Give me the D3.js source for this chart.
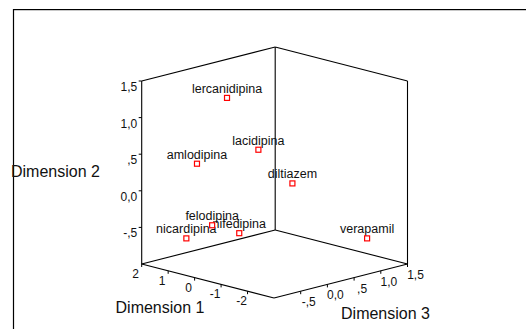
<!DOCTYPE html>
<html>
<head>
<meta charset="utf-8">
<script src="https://cdn.jsdelivr.net/npm/d3@7"></script>
<style>
html,body{margin:0;padding:0;background:#fff;}
svg{display:block;font-family:"Liberation Sans",Arial,sans-serif;}
</style>
</head>
<body>
<svg id="chart" width="526" height="329"></svg>
<script>
// ---- data ----
const names = ["lercanidipina","lacidipina","amlodipina","diltiazem","felodipina","nifedipina","nicardipina","verapamil"];
const dim1 = [0.39, -0.19, 0.96, -0.83, 0.67, 0.17, 1.16, -2.24];
const dim2 = [1.27, 0.56, 0.37, 0.10, -0.47, -0.58, -0.65, -0.65];
const dim3 = [-0.20, 0.10, -0.48, 0.42, -0.34, -0.08, -0.58, 1.12];

const ticks1 = [2, 1, 0, -1, -2];
const tickLabels1 = ["2", "1", "0", "-1", "-2"];
const ticks2 = [1.5, 1.0, 0.5, 0.0, -0.5];
const tickLabels2 = ["1,5", "1,0", ",5", "0,0", "-,5"];
const ticks3 = [-0.5, 0.0, 0.5, 1.0, 1.5];
const tickLabels3 = ["-,5", "0,0", ",5", "1,0", "1,5"];

const domain1 = [-3, 2];
const domain2 = [-1, 1.5];
const domain3 = [-1, 1.5];

// ---- layout ----
const svg = d3.select("#chart");
const F = [274, 298];          // front floor corner
const V1 = [-132.3, -34];      // direction of dimension 1 (toward left corner)
const V3 = [133.5, -34];       // direction of dimension 3 (toward right corner)
const V2 = [0, -183];          // vertical

const s1 = d3.scaleLinear().domain(domain1).range([0, 1]);
const s2 = d3.scaleLinear().domain(domain2).range([0, 1]);
const s3 = d3.scaleLinear().domain(domain3).range([0, 1]);

function proj(a, b, c) {
  const t1 = s1(a), t2 = s2(b), t3 = s3(c);
  return [F[0] + t1 * V1[0] + t3 * V3[0] + t2 * V2[0],
          F[1] + t1 * V1[1] + t3 * V3[1] + t2 * V2[1]];
}

// outer frame (clipped at right/bottom)
svg.append("line").attr("x1", 13).attr("y1", 10.5).attr("x2", 526).attr("y2", 10.5)
  .attr("stroke", "#c8c8c8").attr("stroke-width", 1);
svg.append("line").attr("x1", 13).attr("y1", 9.5).attr("x2", 526).attr("y2", 9.5)
  .attr("stroke", "#000").attr("stroke-width", 1.2);
svg.append("line").attr("x1", 13.5).attr("y1", 9).attr("x2", 13.5).attr("y2", 329)
  .attr("stroke", "#000").attr("stroke-width", 1.2);

// box corners
const [a0, a1] = domain1, [b0, b1] = domain2, [c0, c1] = domain3;
const fl = proj(a0, b0, c0);   // front
const lf = proj(a1, b0, c0);   // left
const rt = proj(a0, b0, c1);   // right
const bk = proj(a1, b0, c1);   // back
const lfT = proj(a1, b1, c0);
const rtT = proj(a0, b1, c1);
const bkT = proj(a1, b1, c1);

const edges = [
  [lf, bk], [bk, rt], [lf, fl], [fl, rt],
  [lf, lfT], [bk, bkT], [rt, rtT],
  [lfT, bkT], [bkT, rtT]
];
svg.append("g").selectAll("line").data(edges).join("line")
  .attr("x1", d => d[0][0]).attr("y1", d => d[0][1])
  .attr("x2", d => d[1][0]).attr("y2", d => d[1][1])
  .attr("stroke", "#000").attr("stroke-width", 1.1);

const tickFont = 12;
// dimension 2 ticks (left vertical edge)
const g2 = svg.append("g");
ticks2.forEach((t, i) => {
  const p = proj(a1, t, c0);
  g2.append("line").attr("x1", p[0] - 3).attr("x2", p[0]).attr("y1", p[1]).attr("y2", p[1])
    .attr("stroke", "#000").attr("stroke-width", 1);
  g2.append("text").attr("x", p[0] - 4.5).attr("y", p[1] + 10)
    .attr("text-anchor", "end").attr("font-size", tickFont).attr("fill", "#111")
    .text(tickLabels2[i]);
});

// dimension 1 ticks (left-front floor edge)
const g1 = svg.append("g");
ticks1.forEach((t, i) => {
  const p = proj(t, b0, c0);
  g1.append("line").attr("x1", p[0]).attr("x2", p[0]).attr("y1", p[1]).attr("y2", p[1] + 3)
    .attr("stroke", "#000").attr("stroke-width", 1);
  g1.append("text").attr("x", p[0] - 6).attr("y", p[1] + 14)
    .attr("text-anchor", "middle").attr("font-size", tickFont).attr("fill", "#111")
    .text(tickLabels1[i]);
});

// dimension 3 ticks (front-right floor edge)
const g3 = svg.append("g");
ticks3.forEach((t, i) => {
  const p = proj(a0, b0, t);
  g3.append("line").attr("x1", p[0]).attr("x2", p[0]).attr("y1", p[1]).attr("y2", p[1] + 3)
    .attr("stroke", "#000").attr("stroke-width", 1);
  g3.append("text").attr("x", p[0] + 8).attr("y", p[1] + 15)
    .attr("text-anchor", "middle").attr("font-size", tickFont).attr("fill", "#111")
    .text(tickLabels3[i]);
});

// axis titles
svg.append("text").attr("x", 11).attr("y", 177).attr("font-size", 16).attr("fill", "#111")
  .text("Dimension 2");
svg.append("text").attr("x", 160).attr("y", 313).attr("text-anchor", "middle")
  .attr("font-size", 16).attr("fill", "#111").text("Dimension 1");
svg.append("text").attr("x", 385.5).attr("y", 319).attr("text-anchor", "middle")
  .attr("font-size", 16).attr("fill", "#111").text("Dimension 3");

// points
const pts = names.map((n, i) => ({ name: n, p: proj(dim1[i], dim2[i], dim3[i]) }));
const gp = svg.append("g");
gp.selectAll("text").data(pts).join("text")
  .attr("x", d => d.p[0]).attr("y", d => d.p[1] - 5)
  .attr("text-anchor", "middle").attr("font-size", 12.5).attr("fill", "#111")
  .text(d => d.name);
gp.selectAll("rect").data(pts).join("rect")
  .attr("x", d => d.p[0] - 2.5).attr("y", d => d.p[1] - 2.5)
  .attr("width", 5).attr("height", 5)
  .attr("fill", "#fff").attr("stroke", "#ff0000").attr("stroke-width", 1.2);
</script>
</body>
</html>
